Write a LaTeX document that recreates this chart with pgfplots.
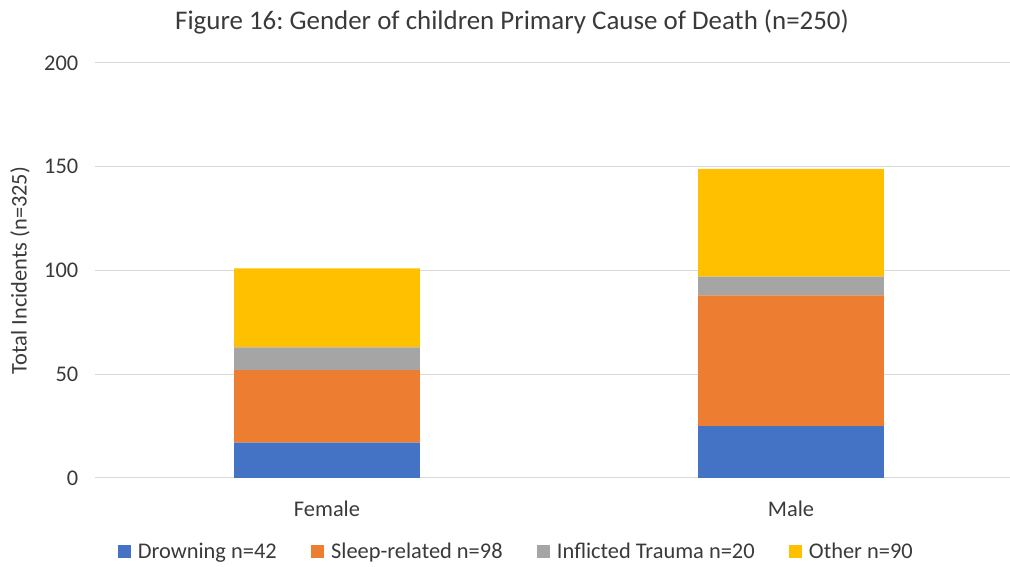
\documentclass[border=0pt]{standalone}
\usepackage{pgfplots}
\pgfplotsset{compat=1.18}
\usepackage{fontspec}
\setmainfont{Carlito}
\definecolor{cblue}{HTML}{4472C4}
\definecolor{corange}{HTML}{ED7D31}
\definecolor{cgray}{HTML}{A5A5A5}
\definecolor{cyellow}{HTML}{FFC000}
\definecolor{gridgray}{HTML}{D9D9D9}
\definecolor{textgray}{HTML}{3A3A3A}
\newcommand{\lbl}{\fontsize{16.8}{20}\selectfont}
\frenchspacing
\begin{document}
\begin{tikzpicture}
\path[use as bounding box] (0,0) rectangle (757.5pt,425.25pt);
\node[text=textgray, font=\fontsize{20.2}{24}\selectfont] at (384pt,408.75pt) {Figure 16: Gender of children Primary Cause of Death (n=250)};
\begin{axis}[
  at={(71.25pt,66.75pt)}, anchor=south west,
  scale only axis, width=686.25pt, height=311.25pt,
  ybar stacked, bar width=0.4,
  xmin=-0.5, xmax=1.472, ymin=0, ymax=200,
  xtick={0,1}, xticklabels={Female,Male},
  ytick={0,50,100,150,200},
  ymajorgrids, grid style={draw=gridgray, line width=0.75pt},
  axis line style={draw=none}, tick style={draw=none},
  /pgf/number format/assume math mode=true,
  ticklabel style={font=\lbl, text=textgray},
  yticklabel style={xshift=-9pt},
  xticklabel style={yshift=-14pt},
  ylabel={Total Incidents (n=325)},
  every axis y label/.style={at={(axis description cs:-0.082,0.5)}, rotate=90, anchor=center, font=\lbl, text=textgray},
  legend style={at={(0.461,-0.178)}, anchor=center, draw=none, font=\lbl, text=textgray,
    legend columns=4,
    /tikz/every odd column/.append style={column sep=3pt},
    /tikz/every even column/.append style={column sep=24pt}},
  legend image code/.code={\fill[#1] (0pt,-4.875pt) rectangle (9.75pt,4.875pt);},
]
\addplot[fill=cblue, draw=none] coordinates {(0,17) (1,25)};
\addplot[fill=corange, draw=none] coordinates {(0,35) (1,63)};
\addplot[fill=cgray, draw=none] coordinates {(0,11) (1,9)};
\addplot[fill=cyellow, draw=none] coordinates {(0,38) (1,52)};
\legend{Drowning n=42, Sleep-related n=98, Inflicted Trauma n=20, Other n=90}
\end{axis}
\end{tikzpicture}
\end{document}
